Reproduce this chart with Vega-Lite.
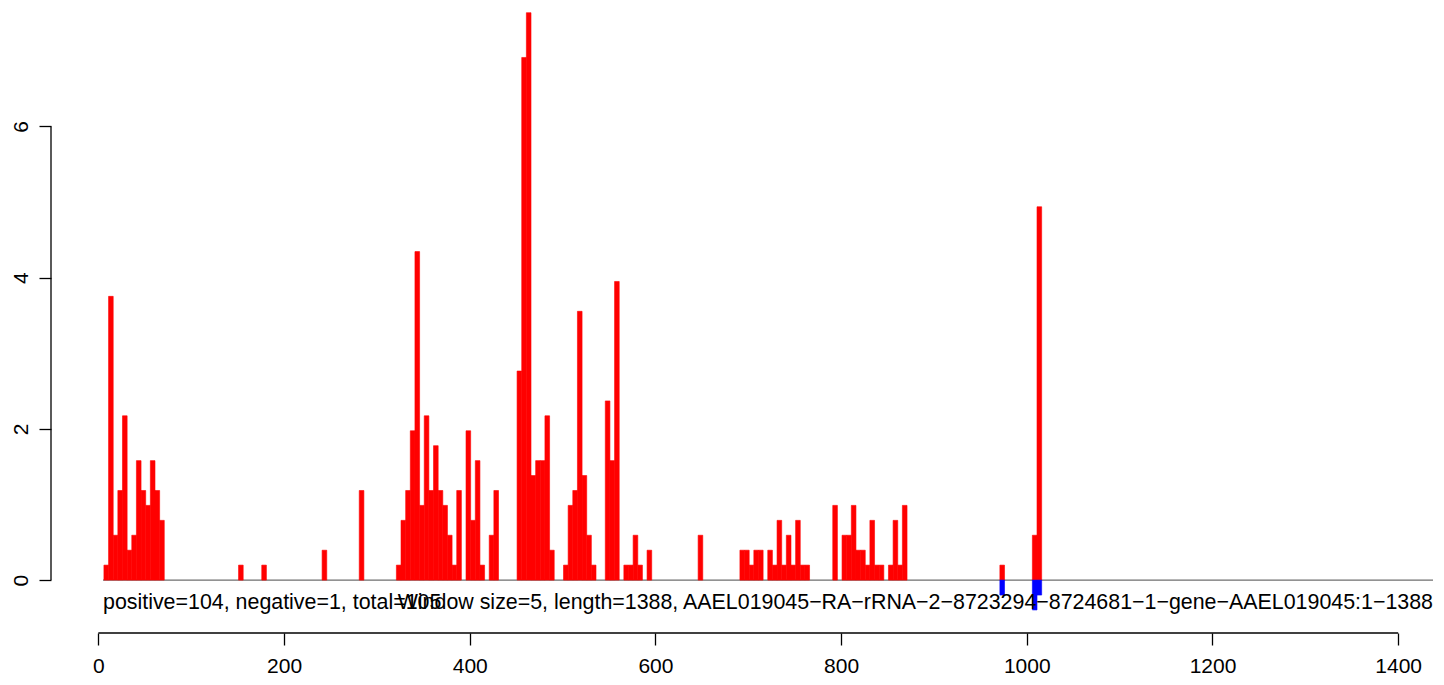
{
  "$schema": "https://vega.github.io/schema/vega-lite/v6.json",
  "width": 1382,
  "height": 633,
  "autosize": {"type": "none"},
  "padding": {"left": 51, "top": 0, "right": 11, "bottom": 52},
  "background": "white",
  "config": {"view": {"stroke": null}, "font": "Liberation Sans"},
  "datasets": {
    "bars": [
      {"start": 6, "end": 11, "value": 0.198, "strand": "positive"},
      {"start": 11, "end": 16, "value": 3.753, "strand": "positive"},
      {"start": 16, "end": 21, "value": 0.593, "strand": "positive"},
      {"start": 21, "end": 26, "value": 1.185, "strand": "positive"},
      {"start": 26, "end": 31, "value": 2.173, "strand": "positive"},
      {"start": 31, "end": 36, "value": 0.395, "strand": "positive"},
      {"start": 36, "end": 41, "value": 0.593, "strand": "positive"},
      {"start": 41, "end": 46, "value": 1.58, "strand": "positive"},
      {"start": 46, "end": 51, "value": 1.185, "strand": "positive"},
      {"start": 51, "end": 56, "value": 0.988, "strand": "positive"},
      {"start": 56, "end": 61, "value": 1.58, "strand": "positive"},
      {"start": 61, "end": 66, "value": 1.185, "strand": "positive"},
      {"start": 66, "end": 71, "value": 0.79, "strand": "positive"},
      {"start": 151, "end": 156, "value": 0.198, "strand": "positive"},
      {"start": 176, "end": 181, "value": 0.198, "strand": "positive"},
      {"start": 241, "end": 246, "value": 0.395, "strand": "positive"},
      {"start": 281, "end": 286, "value": 1.185, "strand": "positive"},
      {"start": 321, "end": 326, "value": 0.198, "strand": "positive"},
      {"start": 326, "end": 331, "value": 0.79, "strand": "positive"},
      {"start": 331, "end": 336, "value": 1.185, "strand": "positive"},
      {"start": 336, "end": 341, "value": 1.975, "strand": "positive"},
      {"start": 341, "end": 346, "value": 4.345, "strand": "positive"},
      {"start": 346, "end": 351, "value": 0.988, "strand": "positive"},
      {"start": 351, "end": 356, "value": 2.173, "strand": "positive"},
      {"start": 356, "end": 361, "value": 1.185, "strand": "positive"},
      {"start": 361, "end": 366, "value": 1.778, "strand": "positive"},
      {"start": 366, "end": 371, "value": 1.185, "strand": "positive"},
      {"start": 371, "end": 376, "value": 0.988, "strand": "positive"},
      {"start": 376, "end": 381, "value": 0.593, "strand": "positive"},
      {"start": 381, "end": 386, "value": 0.198, "strand": "positive"},
      {"start": 386, "end": 391, "value": 1.185, "strand": "positive"},
      {"start": 396, "end": 401, "value": 1.975, "strand": "positive"},
      {"start": 401, "end": 406, "value": 0.79, "strand": "positive"},
      {"start": 406, "end": 411, "value": 1.58, "strand": "positive"},
      {"start": 411, "end": 416, "value": 0.198, "strand": "positive"},
      {"start": 421, "end": 426, "value": 0.593, "strand": "positive"},
      {"start": 426, "end": 431, "value": 1.185, "strand": "positive"},
      {"start": 451, "end": 456, "value": 2.765, "strand": "positive"},
      {"start": 456, "end": 461, "value": 6.913, "strand": "positive"},
      {"start": 461, "end": 466, "value": 7.505, "strand": "positive"},
      {"start": 466, "end": 471, "value": 1.383, "strand": "positive"},
      {"start": 471, "end": 476, "value": 1.58, "strand": "positive"},
      {"start": 476, "end": 481, "value": 1.58, "strand": "positive"},
      {"start": 481, "end": 486, "value": 2.173, "strand": "positive"},
      {"start": 486, "end": 491, "value": 0.395, "strand": "positive"},
      {"start": 501, "end": 506, "value": 0.198, "strand": "positive"},
      {"start": 506, "end": 511, "value": 0.988, "strand": "positive"},
      {"start": 511, "end": 516, "value": 1.185, "strand": "positive"},
      {"start": 516, "end": 521, "value": 3.555, "strand": "positive"},
      {"start": 521, "end": 526, "value": 1.383, "strand": "positive"},
      {"start": 526, "end": 531, "value": 0.593, "strand": "positive"},
      {"start": 531, "end": 536, "value": 0.198, "strand": "positive"},
      {"start": 546, "end": 551, "value": 2.37, "strand": "positive"},
      {"start": 551, "end": 556, "value": 1.58, "strand": "positive"},
      {"start": 556, "end": 561, "value": 3.95, "strand": "positive"},
      {"start": 566, "end": 571, "value": 0.198, "strand": "positive"},
      {"start": 571, "end": 576, "value": 0.198, "strand": "positive"},
      {"start": 576, "end": 581, "value": 0.593, "strand": "positive"},
      {"start": 581, "end": 586, "value": 0.198, "strand": "positive"},
      {"start": 591, "end": 596, "value": 0.395, "strand": "positive"},
      {"start": 646, "end": 651, "value": 0.593, "strand": "positive"},
      {"start": 691, "end": 696, "value": 0.395, "strand": "positive"},
      {"start": 696, "end": 701, "value": 0.395, "strand": "positive"},
      {"start": 701, "end": 706, "value": 0.198, "strand": "positive"},
      {"start": 706, "end": 711, "value": 0.395, "strand": "positive"},
      {"start": 711, "end": 716, "value": 0.395, "strand": "positive"},
      {"start": 721, "end": 726, "value": 0.395, "strand": "positive"},
      {"start": 726, "end": 731, "value": 0.198, "strand": "positive"},
      {"start": 731, "end": 736, "value": 0.79, "strand": "positive"},
      {"start": 736, "end": 741, "value": 0.198, "strand": "positive"},
      {"start": 741, "end": 746, "value": 0.593, "strand": "positive"},
      {"start": 746, "end": 751, "value": 0.198, "strand": "positive"},
      {"start": 751, "end": 756, "value": 0.79, "strand": "positive"},
      {"start": 756, "end": 761, "value": 0.198, "strand": "positive"},
      {"start": 761, "end": 766, "value": 0.198, "strand": "positive"},
      {"start": 791, "end": 796, "value": 0.988, "strand": "positive"},
      {"start": 801, "end": 806, "value": 0.593, "strand": "positive"},
      {"start": 806, "end": 811, "value": 0.593, "strand": "positive"},
      {"start": 811, "end": 816, "value": 0.988, "strand": "positive"},
      {"start": 816, "end": 821, "value": 0.395, "strand": "positive"},
      {"start": 821, "end": 826, "value": 0.395, "strand": "positive"},
      {"start": 826, "end": 831, "value": 0.198, "strand": "positive"},
      {"start": 831, "end": 836, "value": 0.79, "strand": "positive"},
      {"start": 836, "end": 841, "value": 0.198, "strand": "positive"},
      {"start": 841, "end": 846, "value": 0.198, "strand": "positive"},
      {"start": 851, "end": 856, "value": 0.198, "strand": "positive"},
      {"start": 856, "end": 861, "value": 0.79, "strand": "positive"},
      {"start": 861, "end": 866, "value": 0.198, "strand": "positive"},
      {"start": 866, "end": 871, "value": 0.988, "strand": "positive"},
      {"start": 971, "end": 976, "value": 0.198, "strand": "positive"},
      {"start": 1006, "end": 1011, "value": 0.593, "strand": "positive"},
      {"start": 1011, "end": 1016, "value": 4.938, "strand": "positive"},
      {"start": 971, "end": 976, "value": -0.198, "strand": "negative"},
      {"start": 1006, "end": 1011, "value": -0.395, "strand": "negative"},
      {"start": 1011, "end": 1016, "value": -0.198, "strand": "negative"}
    ],
    "one": [{"k": 1}]
  },
  "layer": [
    {
      "data": {"name": "one"},
      "mark": {"type": "rule", "color": "#6e6e6e", "strokeWidth": 1.3},
      "encoding": {
        "x": {"datum": 5, "type": "quantitative"},
        "x2": {"datum": 1437.5},
        "y": {"datum": 0, "type": "quantitative"}
      }
    },
    {
      "data": {"name": "bars"},
      "mark": {"type": "bar", "strokeWidth": 0.6},
      "encoding": {
        "x": {
          "field": "start",
          "type": "quantitative",
          "scale": {"domain": [-51, 1437.5], "nice": false, "zero": false},
          "axis": {
            "values": [0, 200, 400, 600, 800, 1000, 1200, 1400],
            "format": "d",
            "domain": false,
            "grid": false,
            "title": null,
            "tickSize": 12,
            "tickColor": "black",
            "tickWidth": 1.3,
            "labelPadding": 10,
            "labelFontSize": 21,
            "labelColor": "black",
            "labelFont": "Liberation Sans",
            "labelFlush": false,
            "labelOverlap": false
          }
        },
        "x2": {"field": "end"},
        "y": {
          "field": "value",
          "type": "quantitative",
          "scale": {"domain": [-0.7, 7.673], "nice": false, "zero": false},
          "axis": {
            "values": [0, 2, 4, 6],
            "format": "d",
            "domain": false,
            "grid": false,
            "title": null,
            "tickSize": 12,
            "tickColor": "black",
            "tickWidth": 1.3,
            "labelAngle": -90,
            "labelAlign": "center",
            "labelBaseline": "alphabetic",
            "labelPadding": 12,
            "labelFontSize": 21,
            "labelColor": "black",
            "labelFont": "Liberation Sans",
            "labelFlush": false,
            "labelOverlap": false
          }
        },
        "y2": {"datum": 0},
        "color": {
          "field": "strand",
          "type": "nominal",
          "scale": {"domain": ["positive", "negative"], "range": ["#ff0000", "#0000ff"]},
          "legend": null
        },
        "stroke": {
          "field": "strand",
          "type": "nominal",
          "scale": {"domain": ["positive", "negative"], "range": ["#ff0000", "#0000ff"]},
          "legend": null
        }
      }
    },
    {
      "data": {"name": "one"},
      "mark": {"type": "rule", "color": "black", "strokeWidth": 1.3},
      "encoding": {
        "x": {"datum": -51, "type": "quantitative"},
        "y": {"datum": 0, "type": "quantitative"},
        "y2": {"datum": 6}
      }
    },
    {
      "data": {"name": "one"},
      "mark": {"type": "rule", "color": "black", "strokeWidth": 1.3},
      "encoding": {
        "x": {"datum": 0, "type": "quantitative"},
        "x2": {"datum": 1400},
        "y": {"datum": -0.7, "type": "quantitative"}
      }
    },
    {
      "data": {"name": "one"},
      "mark": {"type": "text", "align": "left", "baseline": "middle", "fontSize": 21.4, "font": "Liberation Sans", "color": "black"},
      "encoding": {
        "x": {"datum": 5, "type": "quantitative"},
        "y": {"datum": -0.3, "type": "quantitative"},
        "text": {"value": "positive=104, negative=1, total=105"}
      }
    },
    {
      "data": {"name": "one"},
      "mark": {"type": "text", "align": "right", "baseline": "middle", "fontSize": 21.4, "font": "Liberation Sans", "color": "black"},
      "encoding": {
        "x": {"datum": 1437.5, "type": "quantitative"},
        "y": {"datum": -0.3, "type": "quantitative"},
        "text": {"value": "Window size=5, length=1388, AAEL019045−RA−rRNA−2−8723294−8724681−1−gene−AAEL019045:1−1388"}
      }
    }
  ]
}
